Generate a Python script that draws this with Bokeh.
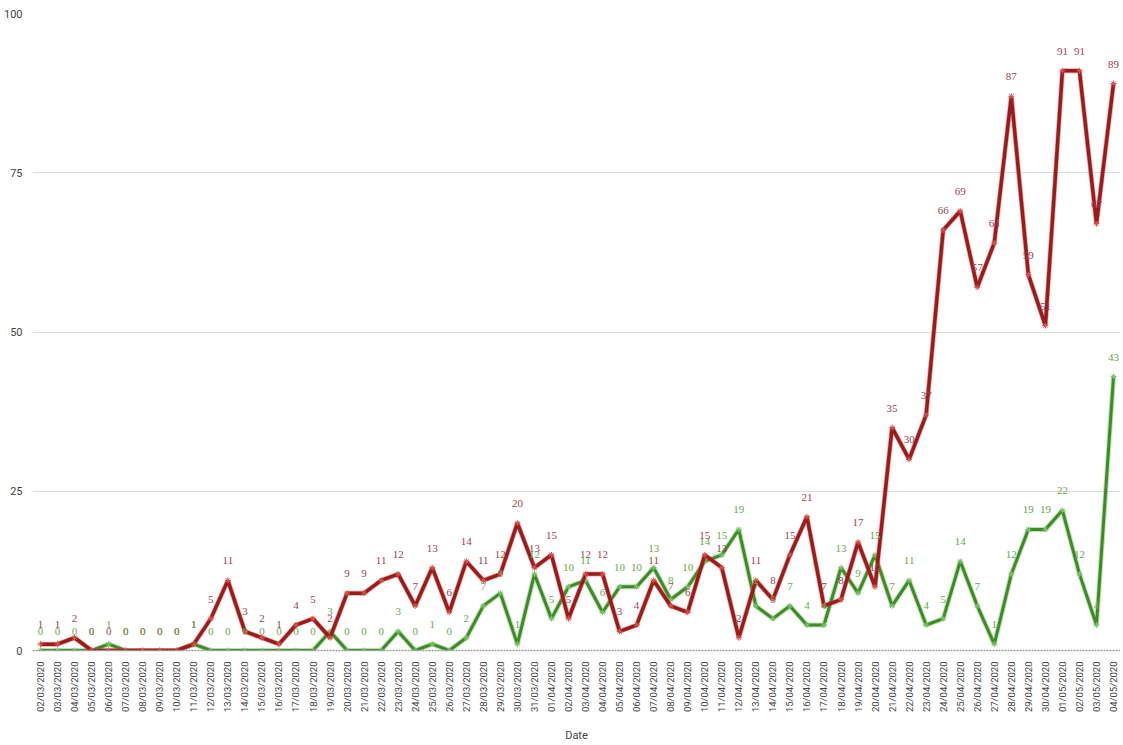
import math
from bokeh.plotting import figure
from bokeh.models import ColumnDataSource, LabelSet, FixedTicker, Range1d
from bokeh.embed import file_html
from bokeh.resources import INLINE

dates = [
    "02/03/2020", "03/03/2020", "04/03/2020", "05/03/2020", "06/03/2020", "07/03/2020",
    "08/03/2020", "09/03/2020", "10/03/2020", "11/03/2020", "12/03/2020", "13/03/2020",
    "14/03/2020", "15/03/2020", "16/03/2020", "17/03/2020", "18/03/2020", "19/03/2020",
    "20/03/2020", "21/03/2020", "22/03/2020", "23/03/2020", "24/03/2020", "25/03/2020",
    "26/03/2020", "27/03/2020", "28/03/2020", "29/03/2020", "30/03/2020", "31/03/2020",
    "01/04/2020", "02/04/2020", "03/04/2020", "04/04/2020", "05/04/2020", "06/04/2020",
    "07/04/2020", "08/04/2020", "09/04/2020", "10/04/2020", "11/04/2020", "12/04/2020",
    "13/04/2020", "14/04/2020", "15/04/2020", "16/04/2020", "17/04/2020", "18/04/2020",
    "19/04/2020", "20/04/2020", "21/04/2020", "22/04/2020", "23/04/2020", "24/04/2020",
    "25/04/2020", "26/04/2020", "27/04/2020", "28/04/2020", "29/04/2020", "30/04/2020",
    "01/05/2020", "02/05/2020", "03/05/2020", "04/05/2020",
]

red = [1, 1, 2, 0, 0, 0, 0, 0, 0, 1,
       5, 11, 3, 2, 1, 4, 5, 2, 9, 9,
       11, 12, 7, 13, 6, 14, 11, 12, 20, 13,
       15, 5, 12, 12, 3, 4, 11, 7, 6, 15,
       13, 2, 11, 8, 15, 21, 7, 8, 17, 10,
       35, 30, 37, 66, 69, 57, 64, 87, 59, 51,
       91, 91, 67, 89]

green = [0, 0, 0, 0, 1, 0, 0, 0, 0, 1,
         0, 0, 0, 0, 0, 0, 0, 3, 0, 0,
         0, 3, 0, 1, 0, 2, 7, 9, 1, 12,
         5, 10, 11, 6, 10, 10, 13, 8, 10, 14,
         15, 19, 7, 5, 7, 4, 4, 13, 9, 15,
         7, 11, 4, 5, 14, 7, 1, 12, 19, 19,
         22, 12, 4, 43]

y_ticks = [0, 25, 50, 75, 100]

FONT = "Roboto"
RED = "#9a1b1b"
RED_HALO = "#d9534f"
GREEN = "#3e8a26"
GREEN_HALO = "#7cc36a"
RED_LABEL = "#a0424f"
GREEN_LABEL = "#6aa84f"

x = list(range(len(dates)))
src_r = ColumnDataSource(dict(x=x, y=red, t=[str(v) for v in red]))
src_g = ColumnDataSource(dict(x=x, y=green, t=[str(v) for v in green]))

p = figure(width=1120, height=745, output_backend="svg", toolbar_location=None,
           x_range=Range1d(-0.47, 63.41), y_range=Range1d(0, 100),
           min_border_top=13, min_border_left=0, min_border_right=0, min_border_bottom=0)
p.outline_line_color = None
p.background_fill_color = "white"
p.border_fill_color = "white"
p.xgrid.visible = False
p.ygrid.grid_line_color = "#dcdcdc"
p.ygrid.grid_line_width = 1

p.yaxis.ticker = FixedTicker(ticks=y_ticks)
p.yaxis.axis_line_color = None
p.yaxis.major_tick_line_color = None
p.yaxis.minor_tick_line_color = None
p.yaxis.major_label_text_font = FONT
p.yaxis.major_label_text_font_size = "11px"
p.yaxis.major_label_text_color = "#444444"
p.yaxis.major_label_standoff = 4

p.xaxis.ticker = FixedTicker(ticks=x)
p.xaxis.major_label_overrides = {i: d for i, d in enumerate(dates)}
p.xaxis.major_label_orientation = math.pi / 2
p.xaxis.major_label_text_font = FONT
p.xaxis.major_label_text_font_size = "9.5px"
p.xaxis.major_label_text_color = "#444444"
p.xaxis.major_label_standoff = 5
p.xaxis.major_tick_line_color = None
p.xaxis.minor_tick_line_color = None
p.xaxis.axis_line_color = "#9a9a9a"
p.xaxis.axis_line_dash = "2 1"
p.xaxis.axis_line_width = 1.5
p.xaxis.axis_label = "Date"
p.xaxis.axis_label_text_font = FONT
p.xaxis.axis_label_text_font_style = "normal"
p.xaxis.axis_label_text_font_size = "11px"
p.xaxis.axis_label_text_color = "#444444"
p.xaxis.axis_label_standoff = 14

# green series
p.line("x", "y", source=src_g, line_color=GREEN_HALO, line_width=5, line_alpha=0.5)
p.line("x", "y", source=src_g, line_color=GREEN, line_width=3)
p.scatter("x", "y", source=src_g, marker="asterisk", size=6, line_color=GREEN_HALO, line_width=1)
# red series
p.line("x", "y", source=src_r, line_color=RED_HALO, line_width=5, line_alpha=0.5)
p.line("x", "y", source=src_r, line_color=RED, line_width=3.5)
p.scatter("x", "y", source=src_r, marker="asterisk", size=6, line_color=RED_HALO, line_width=1)

lr = LabelSet(x="x", y="y", text="t", source=src_r, x_offset=0, y_offset=16,
              text_align="center", text_baseline="bottom", text_font_size="11px",
              text_color=RED_LABEL, text_font=FONT)
lg = LabelSet(x="x", y="y", text="t", source=src_g, x_offset=0, y_offset=16,
              text_align="center", text_baseline="bottom", text_font_size="11px",
              text_color=GREEN_LABEL, text_font=FONT)
p.add_layout(lr)
p.add_layout(lg)

open("out.html", "w").write(file_html(p, INLINE))
